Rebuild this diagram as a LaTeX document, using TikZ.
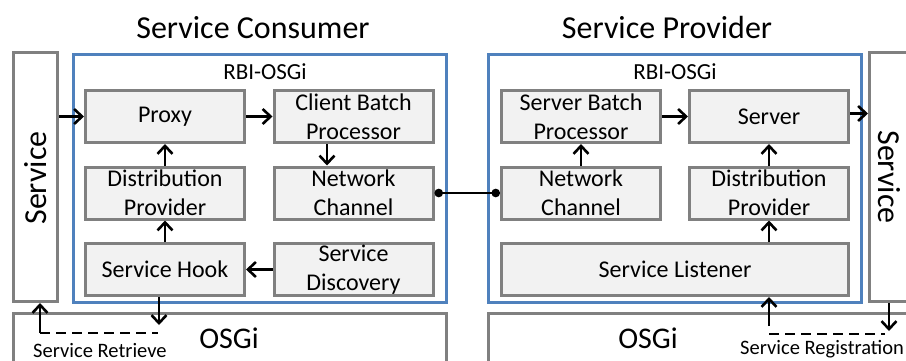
\documentclass[tikz,border=0pt]{standalone}
\usepackage{fontspec}
\setmainfont{Carlito}
\usetikzlibrary{arrows.meta,calc}
\definecolor{cinzaborda}{HTML}{808080}
\definecolor{cinzafundo}{HTML}{F2F2F2}
\definecolor{azulrbi}{HTML}{4F81BD}

\begin{document}
\begin{tikzpicture}[x=1pt, y=-1pt,
  caixa/.style={draw=cinzaborda, fill=cinzafundo, line width=3pt,
    minimum width=159pt, minimum height=52pt, inner sep=0pt,
    align=center, font=\fontsize{24}{29}\selectfont},
  moldura/.style={draw=cinzaborda, line width=3pt, inner sep=0pt},
  rbi/.style={draw=azulrbi, line width=2.8pt, minimum width=373pt,
    minimum height=248pt, inner sep=0pt},
  seta/.style={-{Straight Barb[length=8pt,width=15pt]}, line width=2.6pt},
  tracejado/.style={line width=2.6pt, dash pattern=on 10pt off 6pt},
  titulo/.style={font=\fontsize{32}{38}\selectfont, inner sep=0pt},
  rot/.style={font=\fontsize{20.5}{25}\selectfont, inner sep=0pt}]

\useasboundingbox (0,0) rectangle (906,361);
\clip (0,0) rectangle (906,361);

% ================= molduras externas =================
\node[moldura, minimum width=44pt, minimum height=249pt] (svcL) at (35.5,177) {};
\node[moldura, minimum width=44pt, minimum height=249pt] (svcR) at (891.5,177) {};
\node[titulo, rotate=90] (svcLtxt) at (36,178) {Service};
\node[titulo, rotate=-90] (svcRtxt) at (889,177) {Service};
\node[moldura, minimum width=433pt, minimum height=80pt] (osgiL) at (230,353.5) {};
\node[moldura, minimum width=441pt, minimum height=80pt] (osgiR) at (709,353.5) {};
\node[titulo, font=\fontsize{30}{36}\selectfont] (osgiLtxt) at (229,338) {OSGi};
\node[titulo, font=\fontsize{30}{36}\selectfont] (osgiRtxt) at (648,338) {OSGi};

% ================= consumidor =================
\node[titulo] (consumer) at (253,28) {Service Consumer};
\node[rbi] (rbiL) at (260,178.5) {};
\node[font=\fontsize{23}{27}\selectfont, inner sep=0pt] (rbiLtxt) at (265,72) {RBI-OSGi};
\node[caixa] (proxy) at (165,116.5) {Proxy};
\node[caixa] (cbp) at (353.5,116.5) {Client Batch\\Processor};
\node[caixa] (distL) at (165,193) {Distribution\\Provider};
\node[caixa] (netL) at (353.5,193) {Network\\Channel};
\node[caixa] (hook) at (165,269.5) {Service Hook};
\node[caixa] (discovery) at (353.5,269.5) {Service\\Discovery};

% ================= provedor =================
\node[titulo] (provider) at (667,28) {Service Provider};
\node[rbi] (rbiR) at (675,178.5) {};
\node[font=\fontsize{23}{27}\selectfont, inner sep=0pt] (rbiRtxt) at (675,72) {RBI-OSGi};
\node[caixa] (sbp) at (581,116.5) {Server Batch\\Processor};
\node[caixa] (server) at (769,116.5) {Server};
\node[caixa] (netR) at (581,193) {Network\\Channel};
\node[caixa] (distR) at (769,193) {Distribution\\Provider};
\node[caixa, minimum width=347pt] (listener) at (675,269.5) {Service Listener};

% ================= ligacoes =================
\coordinate (cbpx) at (327,0);
\draw[seta] (proxy.west -| svcL.east) -- (proxy.west);
\draw[seta] (proxy.east) -- (cbp.west);
\draw[seta] (cbp.south -| cbpx) -- (netL.north -| cbpx);
\draw[seta] (distL.north) -- (proxy.south);
\draw[seta] (hook.north) -- (distL.south);
\draw[seta] (discovery.west) -- (hook.east);
\draw[{Circle[length=8.5pt]}-{Circle[length=8.5pt]}, line width=2.4pt] (netL.east) -- (netR.west);
\draw[seta] (netR.north) -- (sbp.south);
\draw[seta] (sbp.east) -- (server.west);
\draw[seta] (distR.north) -- (server.south);
\draw[seta] (listener.north -| distR) -- (distR.south);
\draw[seta] ($(server.east)+(0,-3)$) -- ($(server.east -| svcR.west)+(0,-3)$);

% retrieve / registration
\coordinate (retA) at (40,333);
\coordinate (retB) at (158,333);
\coordinate (hookend) at (159,325);
\draw[seta] (hook.south -| hookend) -- (hookend);
\draw[tracejado] (retA) -- (retB);
\draw[seta] (retA) -- (retA |- svcL.south);
\node[rot, anchor=base west] (retrieve) at (33,357) {Service Retrieve};

\coordinate (regup) at (769,326);
\coordinate (regA) at (769,334);
\coordinate (regB) at (885,334);
\coordinate (regdown) at (889,331);
\draw[seta] (regup) -- (regup |- listener.south);
\draw[tracejado] (regA) -- (regB);
\draw[seta] (svcR.south -| regdown) -- (regdown);
\node[rot, anchor=base west] (registration) at (740,354) {Service Registration};

\end{tikzpicture}
\end{document}
